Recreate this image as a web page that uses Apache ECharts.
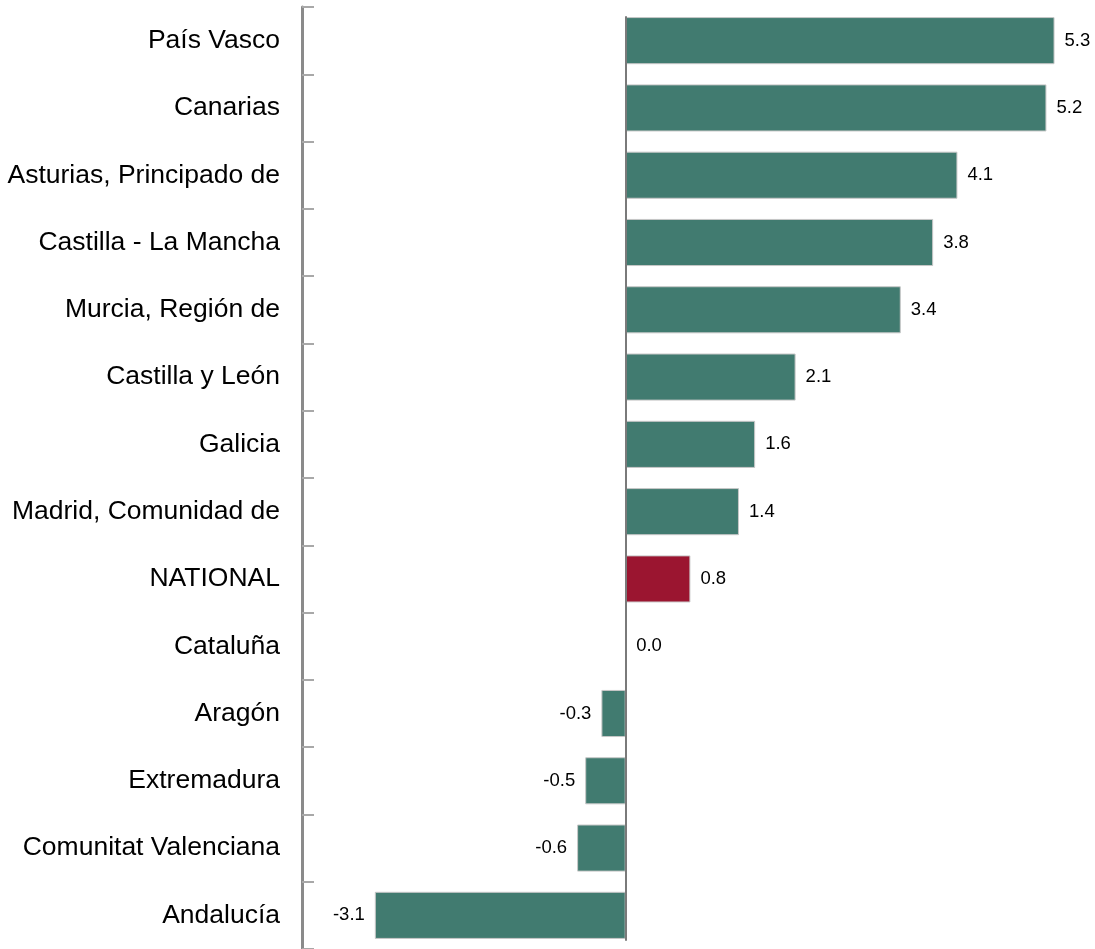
<!DOCTYPE html>
<html><head><meta charset="utf-8">
<script src="https://cdn.jsdelivr.net/npm/echarts@6/dist/echarts.min.js"></script>
<style>html,body{margin:0;padding:0;background:#fff}#c{width:1095px;height:949px}</style>
</head><body><div id="c"></div>
<script>
const categories = ["País Vasco","Canarias","Asturias, Principado de","Castilla - La Mancha","Murcia, Región de","Castilla y León","Galicia","Madrid, Comunidad de","NATIONAL","Cataluña","Aragón","Extremadura","Comunitat Valenciana","Andalucía"];
const values = [5.3,5.2,4.1,3.8,3.4,2.1,1.6,1.4,0.8,0.0,-0.3,-0.5,-0.6,-3.1];
const highlight = "NATIONAL";

const FONT = 'Liberation Sans, Arial, sans-serif';
const chart = echarts.init(document.getElementById('c'), null, {renderer:'canvas'});
chart.setOption({
  animation:false,
  grid:[
    {left:302, right:0, top:7, bottom:0, containLabel:false},
    {left:302, right:0, top:17, bottom:9, containLabel:false}
  ],
  xAxis:[
    {type:'value', min:-4, max:5.8, show:false, gridIndex:0},
    {type:'value', min:-4, max:5.8, gridIndex:1, axisLine:{show:false}, axisTick:{show:false}, axisLabel:{show:false}, splitLine:{show:false}}
  ],
  yAxis:[
    {type:'category', inverse:true, data:categories, gridIndex:0,
      axisLine:{show:true, onZero:false, lineStyle:{color:'#8a8a8a', width:3}},
      axisTick:{show:true, inside:true, length:12, lineStyle:{color:'#a8a8a8', width:2}},
      axisLabel:{fontFamily:FONT, fontSize:26.5, color:'#000', margin:22}
    },
    {type:'category', inverse:true, data:categories, gridIndex:1, z:5,
      axisLine:{show:true, onZero:true, lineStyle:{color:'#7a7a7a', width:2}},
      axisTick:{show:false}, axisLabel:{show:false}, splitLine:{show:false}
    }
  ],
  series:[{
    type:'bar', barCategoryGap:'30%', xAxisIndex:0, yAxisIndex:0,
    data: values.map((v,i)=>({value:v, itemStyle:{color: categories[i]===highlight ? '#9B1530' : '#417B70'},
      label:{position: v<0 ? 'left' : 'right'}})),
    itemStyle:{borderColor:'#c8c8c8', borderWidth:1},
    label:{show:true, distance:10, fontFamily:FONT, fontSize:18.5, color:'#000',
      formatter:p=>p.value.toFixed(1)}
  }]
});
</script></body></html>
